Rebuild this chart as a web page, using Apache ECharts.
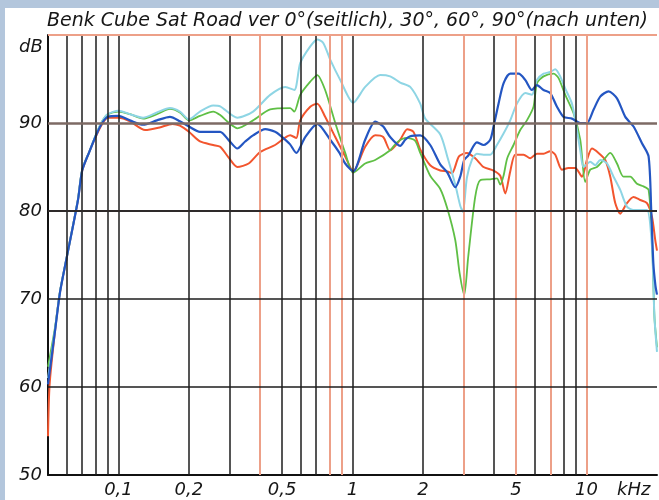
<!DOCTYPE html>
<html>
<head>
<meta charset="utf-8">
<script src="https://cdn.jsdelivr.net/npm/echarts@6/dist/echarts.min.js"></script>
<style>
  html, body { margin: 0; padding: 0; background: #b3c6dc; }
  #panel { position: absolute; left: 5px; top: 8px; width: 654px; height: 492px; background: #ffffff; }
  #chart { position: absolute; left: 0; top: 0; width: 659px; height: 500px; }
</style>
</head>
<body>
<div id="panel"></div>
<div id="chart"></div>
<script>
// Frequency response, Benk Cube Sat Road, measured at four angles.
// Each curve: [frequency in Hz, level in dB]

const curveBlue = [
  [50,60.3],[53.6,66.4],[56.3,70.8],[60.2,74.8],[67.1,81.2],[70,84.6],[75,86.7],[80.5,88.7],[85.2,90.0],[90.1,90.7],
  [100,90.8],[112,90.3],[127.5,89.8],[146,90.3],[166,90.7],[183,90.2],[200,89.6],[223,89.0],[254,89.0],[272,89.0],
  [297,88.0],[322,87.1],[348,87.9],[376,88.6],[424,89.3],[467,89.0],[491,88.6],[540,87.6],[575,86.6],[628,88.4],
  [707,89.9],[803,88.1],[880,86.6],[931,85.4],[1007,84.5],[1133,88.1],[1250,90.15],[1353,89.6],[1449,88.4],[1599,87.4],
  [1680,88.1],[1764,88.5],[1947,88.6],[2148,87.5],[2371,85.3],[2540,84.4],[2748,82.7],[2886,83.9],[3001,85.8],[3122,86.3],
  [3400,87.8],[3629,87.5],[3877,88.1],[4005,89.6],[4207,92.2],[4419,94.5],[4720,95.6],[5121,95.6],[5470,94.9],[5843,93.75],
  [6137,94.3],[6551,93.75],[6997,93.4],[7474,91.85],[7974,90.7],[8662,90.5],[9399,90.0],[10040,90.0],[10710,91.5],[11440,93.0],
  [12420,93.6],[13490,92.8],[14640,90.7],[15880,89.6],[17250,87.7],[18410,86.2],[18900,80.0],[19300,74.0],[19700,71.5],[20000,70.5]
];

const curveRed = [
  [50,54.4],[50.8,60.3],[53.6,66.4],[56.3,70.8],[60.2,74.8],[67.1,81.2],[70,84.6],[75,86.7],[80.5,88.6],[85.2,89.9],[90.1,90.6],
  [100,90.6],[112,90.2],[130,89.2],[150,89.5],[170,89.9],[183,89.7],[200,89.0],[223,87.9],[254,87.5],[272,87.3],
  [297,86.0],[322,85.0],[360,85.4],[403,86.7],[467,87.5],[542,88.6],[575,88.3],[598,90.3],[660,91.85],[707,92.2],
  [764,90.7],[844,88.4],[931,86.2],[1007,84.5],[1133,87.3],[1250,88.6],[1353,88.4],[1449,86.9],[1599,88.1],[1713,89.3],
  [1820,89.0],[1947,87.0],[2148,85.2],[2371,84.6],[2540,84.5],[2660,84.3],[2850,86.2],[3082,86.6],[3344,86.0],[3629,85.0],
  [4005,84.6],[4278,84.0],[4494,82.0],[4720,84.5],[4958,86.4],[5380,86.4],[5746,86.0],[6137,86.5],[6551,86.5],[6997,86.8],
  [7350,86.4],[7850,84.7],[8378,84.9],[8948,84.9],[9557,83.9],[10040,85.8],[10550,87.1],[11250,86.6],[12020,85.8],[12630,83.9],
  [13260,80.9],[13930,79.7],[14880,80.9],[15880,81.6],[16960,81.25],[18120,80.9],[19030,79.35],[19660,76.7],[20000,75.5]
];

const curveGreen = [
  [50,62.3],[53.6,66.8],[56.3,70.9],[60.2,74.8],[67.1,81.3],[70,84.7],[75,86.7],[80.5,88.8],[85.2,90.2],[90.1,91.0],
  [100,91.3],[112,91.0],[127.5,90.5],[146,91.0],[166,91.6],[183,91.2],[200,90.3],[223,90.8],[254,91.3],[272,90.9],
  [297,90.0],[322,89.4],[376,90.3],[445,91.55],[542,91.7],[564,91.3],[598,93.2],[660,94.7],[707,95.45],[764,93.75],
  [844,90.0],[931,86.6],[1007,84.35],[1133,85.4],[1250,85.8],[1449,86.9],[1550,87.8],[1700,88.3],[1850,88.0],[1947,86.6],
  [2148,84.0],[2371,82.5],[2540,80.3],[2748,76.7],[2870,72.9],[3001,70.45],[3122,74.8],[3344,81.6],[3513,83.5],[3877,83.6],
  [4141,83.7],[4278,83.0],[4419,84.0],[4583,86.0],[4875,87.5],[5208,89.2],[5562,90.3],[5935,91.85],[6137,94.5],[6551,95.3],
  [7228,95.6],[7592,95.1],[8110,93.2],[8799,91.1],[9399,88.1],[9872,83.3],[10370,84.7],[11080,85.0],[11820,85.8],[12630,86.6],
  [13490,85.4],[14390,83.9],[15370,83.9],[16420,83.1],[17520,82.8],[18410,82.4],[19030,77.0],[19500,68.0],[20000,64.5]
];

const curveCyan = [
  [50,61.0],[53.6,66.6],[56.3,70.9],[60.2,74.8],[67.1,81.3],[70,84.7],[75,86.7],[80.5,88.8],[85.2,90.2],[90.1,91.0],
  [100,91.4],[112,91.0],[127.5,90.6],[146,91.2],[166,91.7],[183,91.3],[200,90.4],[223,91.3],[254,92.0],[272,91.9],
  [322,90.6],[376,91.3],[445,93.2],[516,94.1],[564,93.75],[598,96.8],[660,98.7],[707,99.5],[750,99.1],[803,97.2],
  [886,94.9],[1007,92.3],[1133,94.1],[1313,95.45],[1449,95.3],[1599,94.6],[1764,94.1],[1947,92.2],[2045,90.5],[2371,88.7],
  [2540,86.2],[2748,83.0],[2886,80.6],[2963,79.9],[3082,83.8],[3237,85.8],[3400,86.5],[3629,86.4],[3877,86.4],[4141,87.5],
  [4419,88.8],[4720,90.3],[5041,92.2],[5470,93.4],[5843,93.2],[6137,94.9],[6551,95.6],[6997,95.8],[7350,96.1],[7720,95.3],
  [8110,93.9],[8662,92.2],[9100,89.2],[9399,86.9],[9710,85.0],[10370,85.6],[10900,85.2],[11440,85.8],[12220,85.4],[13040,83.9],
  [13930,82.4],[14880,80.5],[15880,80.1],[16960,80.1],[18120,80.1],[19030,76.0],[19500,68.0],[20000,64.0]
];

// Frequency grid (Hz): dark lines and light salmon lines
const gridFreqsDark = [60, 70, 80, 90, 100, 200, 300, 500, 600, 700, 1000, 2000, 4000, 6000, 8000, 9000];
const gridFreqsSalmon = [400, 800, 900, 3000, 5000, 7000, 10000];
// Level grid (dB)
const gridLevels = [60, 70, 80, 90, 100];
// Frequency tick labels (kHz, German decimal comma)
const tickFreqs = [100, 200, 500, 1000, 2000, 5000, 10000];
const tickLabels = ['0,1', '0,2', '0,5', '1', '2', '5', '10'];

const FONT = 'DejaVu Sans';
const INK = '#161616';
const DARK = '#1c1c1c';
const SALMON = '#eda088';

const levelStyle = {
  60: { color: DARK, width: 1.5 },
  70: { color: DARK, width: 1.5 },
  80: { color: '#2e2a2a', width: 1.8 },
  90: { color: '#7d6a64', width: 2.6 },
  100: { color: SALMON, width: 2 }
};

const gridLines = []
  .concat(gridFreqsDark.map(f => ({ xAxis: f, lineStyle: { color: DARK, width: 1.5, type: 'solid' } })))
  .concat(gridFreqsSalmon.map(f => ({ xAxis: f, lineStyle: { color: SALMON, width: 2, type: 'solid' } })))
  .concat(gridLevels.map(v => ({ yAxis: v, lineStyle: { color: levelStyle[v].color, width: levelStyle[v].width, type: 'solid' } })));

function curve(name, data, color, width) {
  return {
    name: name, type: 'line', data: data, showSymbol: false, symbol: 'none',
    smooth: 0.25, z: 3, clip: true,
    lineStyle: { color: color, width: width }, itemStyle: { color: color }
  };
}

const chart = echarts.init(document.getElementById('chart'), null, { renderer: 'canvas' });
chart.setOption({
  backgroundColor: 'transparent',
  animation: false,
  title: {
    text: 'Benk Cube Sat Road ver 0°(seitlich), 30°, 60°, 90°(nach unten)',
    left: 42, top: 7,
    textStyle: { fontFamily: FONT, fontStyle: 'italic', fontWeight: 'normal', fontSize: 19, color: INK }
  },
  grid: { left: 48, right: 2, top: 35, bottom: 25 },
  xAxis: {
    type: 'log', logBase: 10, min: 50, max: 20000,
    axisLine: { show: true, lineStyle: { color: '#111', width: 2 } },
    axisTick: { show: false }, axisLabel: { show: false }, splitLine: { show: false }
  },
  yAxis: {
    type: 'value', min: 50, max: 100, interval: 10,
    axisLine: { show: true, lineStyle: { color: '#111', width: 2 } },
    axisTick: { show: false }, splitLine: { show: false },
    axisLabel: {
      margin: 6, fontFamily: FONT, fontStyle: 'italic', fontSize: 18, color: INK,
      formatter: v => (v === 100 ? '' : String(v))
    }
  },
  graphic: [
    { type: 'text', left: 19, top: 38, style: { text: 'dB', font: 'italic 18px "DejaVu Sans"', fill: INK } },
    { type: 'text', left: 617, top: 481, style: { text: 'kHz', font: 'italic 18px "DejaVu Sans"', fill: INK } }
  ],
  series: [
    {
      name: 'grid', type: 'scatter', z: 1, silent: true,
      symbolSize: 0, itemStyle: { color: INK, opacity: 1 },
      data: tickFreqs.map((f, i) => ({ value: [f, 50], label: { formatter: tickLabels[i] } })),
      label: {
        show: true, position: 'bottom', distance: 6, opacity: 1,
        fontFamily: FONT, fontStyle: 'italic', fontSize: 18, color: INK
      },
      markLine: {
        silent: true, symbol: 'none', animation: false,
        label: { show: false },
        data: gridLines
      }
    },
    curve('30°', curveRed, '#f2552e', 2),
    curve('60°', curveGreen, '#5fbf45', 1.8),
    curve('90°', curveCyan, '#8ed5e4', 2),
    curve('0°', curveBlue, '#2456c2', 2.2)
  ]
});
</script>
</body>
</html>
